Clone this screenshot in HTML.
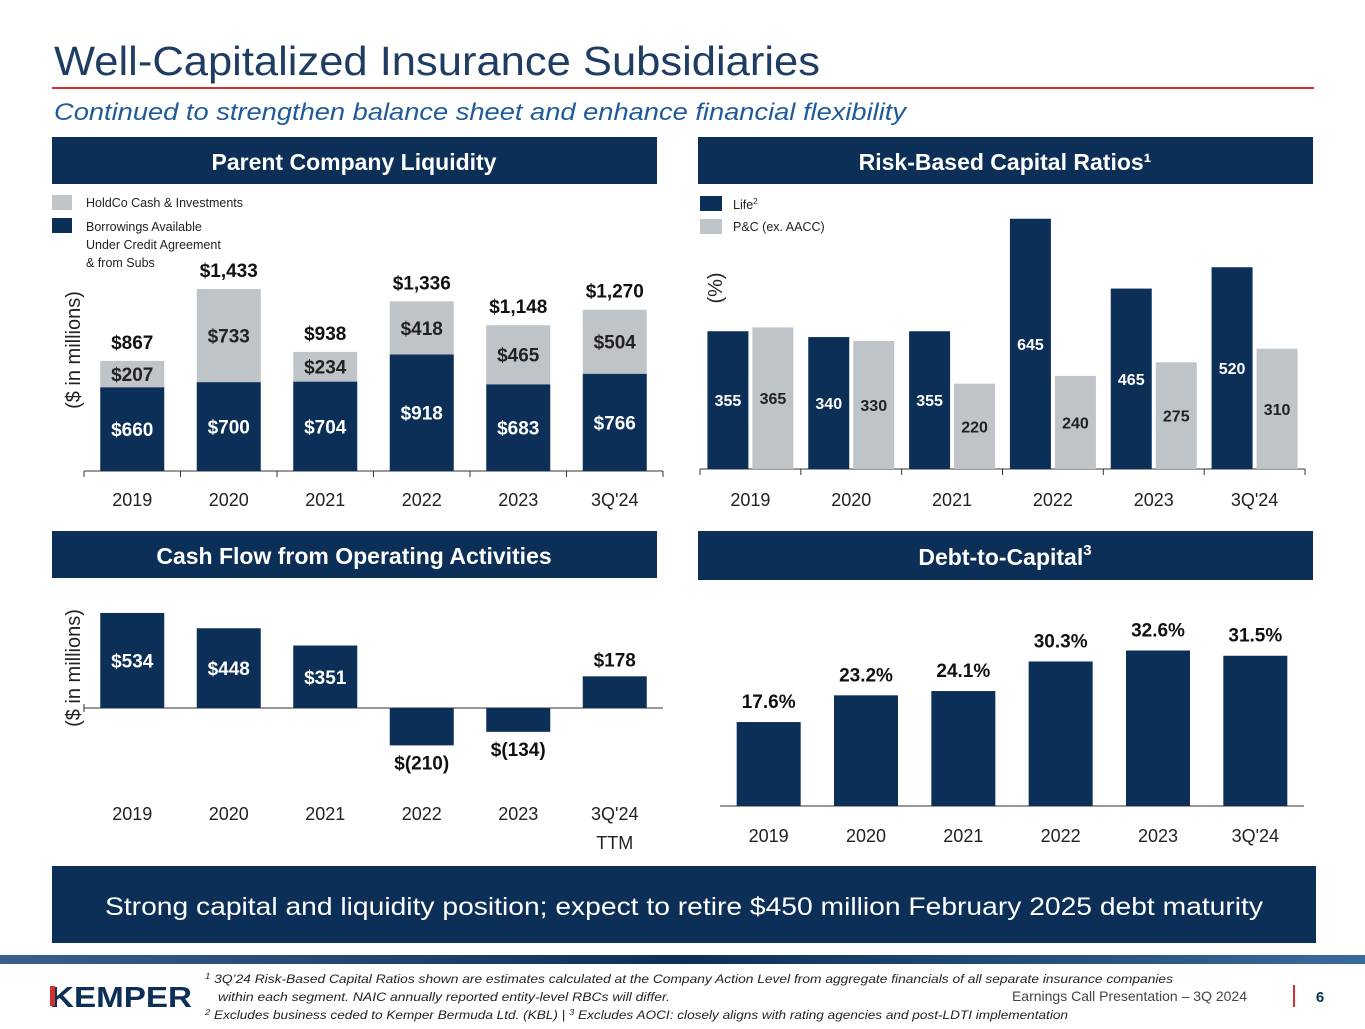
<!DOCTYPE html>
<html><head><meta charset="utf-8">
<style>
body{margin:0;width:1365px;height:1024px;background:#fff;overflow:hidden;font-family:"Liberation Sans",sans-serif;}
svg text{font-family:"Liberation Sans",sans-serif;}
</style></head>
<body>
<svg id="s" width="1365" height="1024" viewBox="0 0 1365 1024" xmlns="http://www.w3.org/2000/svg">
<defs><linearGradient id="fg" x1="0" x2="1"><stop offset="0" stop-color="#3a5f8c"/><stop offset="0.5" stop-color="#0c2f57"/><stop offset="1" stop-color="#3a6a9c"/></linearGradient></defs>
<text x="54" y="75" font-size="41" fill="#1f3d63" textLength="766" lengthAdjust="spacingAndGlyphs">Well-Capitalized Insurance Subsidiaries</text>
<rect x="52" y="87" width="1262" height="2" fill="#d0312d"/>
<text x="54" y="120" font-size="24" font-style="italic" fill="#1f5b9a" textLength="852" lengthAdjust="spacingAndGlyphs">Continued to strengthen balance sheet and enhance financial flexibility</text>
<g><rect x="52" y="137" width="605" height="47" fill="#0c2f57"/><text x="354" y="170" font-size="23" font-weight="bold" fill="#fff" text-anchor="middle">Parent Company Liquidity</text></g>
<g><rect x="698" y="137" width="615" height="47" fill="#0c2f57"/><text x="1005" y="170" font-size="23" font-weight="bold" fill="#fff" text-anchor="middle">Risk-Based Capital Ratios¹</text></g>
<g><rect x="52" y="531" width="605" height="47" fill="#0c2f57"/><text x="354" y="564" font-size="23" font-weight="bold" fill="#fff" text-anchor="middle">Cash Flow from Operating Activities</text></g>
<g><rect x="698" y="531" width="615" height="49" fill="#0c2f57"/><text x="1005" y="565" font-size="23" font-weight="bold" fill="#fff" text-anchor="middle">Debt-to-Capital<tspan font-size="15" dy="-10">3</tspan></text></g>
<g>
<rect x="52" y="195" width="20" height="15" fill="#bfc4c9"/><text x="86" y="207" font-size="12.5" fill="#222">HoldCo Cash &amp; Investments</text>
<rect x="52" y="218" width="20" height="15" fill="#0c2f57"/><text x="86" y="231" font-size="12.5" fill="#222">Borrowings Available</text><text x="86" y="249" font-size="12.5" fill="#222">Under Credit Agreement</text><text x="86" y="267" font-size="12.5" fill="#222">&amp; from Subs</text>
</g>
<g>
<rect x="700" y="196" width="22" height="15" fill="#0c2f57"/><text x="733" y="209" font-size="12.5" fill="#222">Life<tspan font-size="8" dy="-5">2</tspan></text>
<rect x="700" y="219" width="22" height="15" fill="#bfc4c9"/><text x="733" y="231" font-size="12.5" fill="#222">P&amp;C (ex. AACC)</text>
</g>
<text transform="translate(80,350) rotate(-90)" font-size="20" fill="#222" text-anchor="middle">($ in millions)</text>
<text transform="translate(722,288) rotate(-90)" font-size="20" fill="#222" text-anchor="middle">(%)</text>
<text transform="translate(80,668) rotate(-90)" font-size="20" fill="#222" text-anchor="middle">($ in millions)</text>
<g id="c1"></g>
<g id="c2"></g>
<g id="c3"></g>
<g id="c4"></g>
<g><rect x="52" y="866" width="1264" height="77" fill="#0c2f57"/><text x="684" y="915" font-size="25" fill="#fff" text-anchor="middle" textLength="1158" lengthAdjust="spacingAndGlyphs">Strong capital and liquidity position; expect to retire $450 million February 2025 debt maturity</text></g>
<rect x="0" y="955" width="1365" height="9" fill="url(#fg)"/>
<text x="50" y="1007" font-size="29" font-weight="bold" fill="#0c2f57" textLength="142" lengthAdjust="spacingAndGlyphs">KEMPER</text>
<rect x="50" y="986" width="5" height="20" fill="#d0312d"/>
<g font-size="11.5" font-style="italic" fill="#222">
<text x="205" y="983" textLength="968" lengthAdjust="spacingAndGlyphs"><tspan font-size="8" dy="-4">1</tspan><tspan dy="4"> 3Q’24 Risk-Based Capital Ratios shown are estimates calculated at the Company Action Level from aggregate financials of all separate insurance companies</tspan></text>
<text x="218" y="1001" textLength="452" lengthAdjust="spacingAndGlyphs">within each segment. NAIC annually reported entity-level RBCs will differ.</text>
<text x="205" y="1019" textLength="863" lengthAdjust="spacingAndGlyphs"><tspan font-size="8" dy="-4">2</tspan><tspan dy="4"> Excludes business ceded to Kemper Bermuda Ltd. (KBL) | </tspan><tspan font-size="8" dy="-4">3</tspan><tspan dy="4"> Excludes AOCI: closely aligns with rating agencies and post-LDTI implementation</tspan></text>
</g>
<text x="1247" y="1001" font-size="14" fill="#444" text-anchor="end">Earnings Call Presentation – 3Q 2024</text>
<rect x="1293" y="985" width="2" height="22" fill="#d0312d"/>
<text x="1320" y="1002" font-size="15" font-weight="bold" fill="#0c2f57" text-anchor="middle">6</text>
</svg>
<script>
const yearsA=["2019","2020","2021","2022","2023","3Q'24"];
const borrowings=[660,700,704,918,683,766];
const holdco=[207,733,234,418,465,504];
const totals=[867,1433,938,1336,1148,1270];
const lifeRbc=[355,340,355,645,465,520];
const pcRbc=[365,330,220,240,275,310];
const cashYears=["2019","2020","2021","2022","2023","3Q'24"];
const cashFlow=[534,448,351,-210,-134,178];
const cashLabels=["$534","$448","$351","$(210)","$(134)","$178"];
const debtCap=[17.6,23.2,24.1,30.3,32.6,31.5];

const NS="http://www.w3.org/2000/svg";
const NAVY="#0c2f57",GRAY="#bfc4c9";
function mk(p,tag,a,txt){const e=document.createElementNS(NS,tag);for(const k in a)e.setAttribute(k,a[k]);if(txt!=null)e.textContent=txt;p.appendChild(e);return e;}
function axis(p,x0,x1,y,n,tick){mk(p,'line',{x1:x0,x2:x1,y1:y,y2:y,stroke:'#333','stroke-width':1});for(let i=0;i<=n;i++){const x=x0+(x1-x0)*i/n;mk(p,'line',{x1:x,x2:x,y1:y,y2:y+tick,stroke:'#333','stroke-width':1});}}

// Chart 1
(function(){const g=document.getElementById('c1');const x0=84,x1=663,base=471,k=0.127,cw=(x1-x0)/6,bw=64;
const ys=v=>v*k;
axis(g,x0,x1,base,6,6);
yearsA.forEach((c,i)=>{const cx=x0+cw*(i+0.5);
const hb=ys(borrowings[i]),hh=ys(holdco[i]);
const r1=mk(g,'rect',{x:cx-bw/2,y:base-hb,width:bw,height:hb,fill:NAVY});


const r2=mk(g,'rect',{x:cx-bw/2,y:base-hb-hh,width:bw,height:hh,fill:GRAY});


mk(g,'text',{x:cx,y:base-hb/2+7,'font-size':19,'font-weight':'bold',fill:'#fff','text-anchor':'middle'},'$'+borrowings[i]);
mk(g,'text',{x:cx,y:base-hb-hh/2+7,'font-size':19,'font-weight':'bold',fill:'#222','text-anchor':'middle'},'$'+holdco[i]);
mk(g,'text',{x:cx,y:base-hb-hh-12,'font-size':19,'font-weight':'bold',fill:'#111','text-anchor':'middle'},'$'+totals[i].toLocaleString('en-US'));
mk(g,'text',{x:cx,y:506,'font-size':18,fill:'#222','text-anchor':'middle'},c);});})();

// Chart 2
(function(){const g=document.getElementById('c2');const x0=700,x1=1305,base=469,k=0.388,cw=(x1-x0)/6,bw=41;
axis(g,x0,x1,base,6,6);
yearsA.forEach((c,i)=>{const cx=x0+cw*(i+0.5);
const hl=lifeRbc[i]*k,hp=pcRbc[i]*k;
const r1=mk(g,'rect',{x:cx-bw-2,y:base-hl,width:bw,height:hl,fill:NAVY});


const r2=mk(g,'rect',{x:cx+2,y:base-hp,width:bw,height:hp,fill:GRAY});


mk(g,'text',{x:cx-bw/2-2,y:base-hl/2+6,'font-size':16,'font-weight':'bold',fill:'#fff','text-anchor':'middle'},lifeRbc[i]);
mk(g,'text',{x:cx+bw/2+2,y:base-hp/2+6,'font-size':16,'font-weight':'bold',fill:'#222','text-anchor':'middle'},pcRbc[i]);
mk(g,'text',{x:cx,y:506,'font-size':18,fill:'#222','text-anchor':'middle'},c);});})();

// Chart 3
(function(){const g=document.getElementById('c3');const x0=84,x1=663,zero=708,k=0.178,cw=(x1-x0)/6,bw=64;
axis(g,x0,x1,zero,6,0);
mk(g,'line',{x1:x0,x2:x0,y1:zero-4,y2:zero+4,stroke:'#333'});
cashYears.forEach((c,i)=>{const cx=x0+cw*(i+0.5);const v=cashFlow[i],h=Math.abs(v)*k;
const r=mk(g,'rect',{x:cx-bw/2,y:v>=0?zero-h:zero,width:bw,height:h,fill:NAVY});


let ly,col;
if(v<0){ly=zero+h+24;col='#111';}else if(h>50){ly=zero-h/2+7;col='#fff';}else{ly=zero-h-10;col='#111';}
mk(g,'text',{x:cx,y:ly,'font-size':19,'font-weight':'bold',fill:col,'text-anchor':'middle'},cashLabels[i]);
mk(g,'text',{x:cx,y:820,'font-size':18,fill:'#222','text-anchor':'middle'},c);});
mk(g,'text',{x:x0+cw*5.5,y:849,'font-size':18,fill:'#222','text-anchor':'middle'},'TTM');})();

// Chart 4
(function(){const g=document.getElementById('c4');const x0=720,x1=1304,base=806,k=4.77,cw=(x1-x0)/6,bw=64;
axis(g,x0,x1,base,6,0);
yearsA.forEach((c,i)=>{const cx=x0+cw*(i+0.5);const h=debtCap[i]*k;
const r=mk(g,'rect',{x:cx-bw/2,y:base-h,width:bw,height:h,fill:NAVY});


mk(g,'text',{x:cx,y:base-h-14,'font-size':19,'font-weight':'bold',fill:'#111','text-anchor':'middle'},debtCap[i].toFixed(1)+'%');
mk(g,'text',{x:cx,y:842,'font-size':18,fill:'#222','text-anchor':'middle'},c);});})();
</script>
</body></html>
